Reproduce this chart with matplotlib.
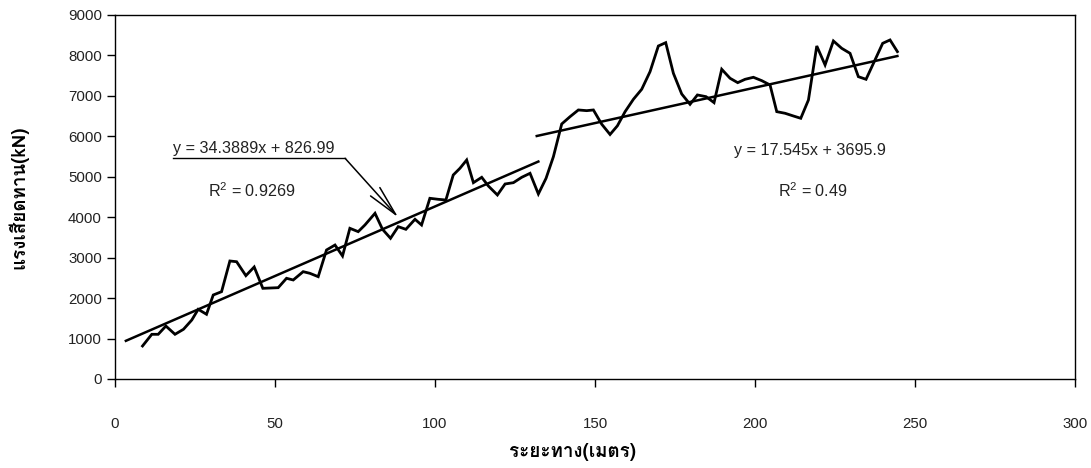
import matplotlib
matplotlib.use("Agg")
import matplotlib.pyplot as plt
from matplotlib import font_manager
from matplotlib.ft2font import FT2Font

# Measured friction along the pile (distance in metres, force in kN)
distance = [8.6, 11.5, 13.5, 15.9, 18.75, 21.4, 24.0, 26.0, 28.6, 30.7, 33.3, 35.9,
            38.0, 40.9, 43.5, 46.2, 48.6, 51.0, 53.6, 55.7, 58.8, 60.9, 63.5, 66.1,
            68.75, 71.1, 73.4, 76.0, 78.1, 81.25, 83.6, 86.1, 88.5, 90.9, 93.75, 95.8,
            98.4, 101.0, 103.4, 105.7, 107.8, 109.9, 112.0, 114.6, 116.7, 119.5, 121.9,
            124.5, 127.1, 129.7, 132.3, 134.7, 137.0, 139.6, 142.2, 144.8, 147.4, 149.5,
            152.1, 154.7, 157.0, 159.4, 162.0, 164.6, 167.2, 169.8, 172.1, 174.5, 177.1,
            179.7, 182.0, 184.7, 187.2, 189.6, 192.2, 194.6, 196.9, 199.5, 202.1, 204.7,
            206.8, 209.4, 212.0, 214.3, 216.7, 219.3, 221.9, 224.5, 227.1, 229.7, 232.3,
            234.7, 237.5, 239.9, 242.2, 244.5]
friction = [816, 1105, 1105, 1310, 1105, 1229, 1459, 1723, 1600, 2077, 2159, 2918,
            2900, 2555, 2770, 2242, 2250, 2258, 2490, 2448, 2654, 2613, 2530, 3190,
            3313, 3042, 3726, 3643, 3808, 4097, 3701, 3479, 3767, 3701, 3949, 3808,
            4468, 4443, 4426, 5044, 5210, 5415, 4854, 4987, 4770, 4550, 4822,
            4854, 4987, 5086, 4575, 4962, 5497, 6306, 6486, 6652, 6635, 6652,
            6300, 6046, 6260, 6610, 6916, 7164, 7599, 8234, 8316, 7558, 7047,
            6792, 7023, 6981, 6833, 7658, 7436, 7327, 7410, 7460, 7377, 7270,
            6610, 6570, 6503, 6446, 6899, 8234, 7765, 8358, 8176, 8053, 7475,
            7410, 7888, 8300, 8383, 8094]

# Linear trends of the two segments
trend1_slope, trend1_icpt, trend1_r2 = 34.3889, 826.99, 0.9269
trend1_range = [3.4, 132.3]
trend2_slope, trend2_icpt, trend2_r2 = 17.545, 3695.9, 0.49
trend2_range = [131.8, 244.5]

x_ticks = [0, 50, 100, 150, 200, 250, 300]
y_ticks = [0, 1000, 2000, 3000, 4000, 5000, 6000, 7000, 8000, 9000]
x_label = "ระยะทาง(เมตร)"
y_label = "แรงเสียดทาน(kN)"


def thai_family():
    for fe in font_manager.fontManager.ttflist:
        try:
            f = FT2Font(fe.fname)
            if f.get_char_index(ord("ร")) and f.get_char_index(ord("ท")):
                return fe.name
        except Exception:
            pass
    return "DejaVu Sans"


THAI = thai_family()
plt.rcParams["font.family"] = ["Liberation Sans", "DejaVu Sans"]
plt.rcParams["mathtext.fontset"] = "custom"
plt.rcParams["mathtext.rm"] = "Liberation Sans"

fig = plt.figure(figsize=(10.91, 4.68), dpi=100)
ax = fig.add_axes([115 / 1091, 1 - 379 / 468, 960 / 1091, 364 / 468])

ax.plot(distance, friction, color="black", lw=2.0, solid_joinstyle="miter")

for (x0, x1), m, c in ((trend1_range, trend1_slope, trend1_icpt),
                       (trend2_range, trend2_slope, trend2_icpt)):
    ax.plot([x0, x1], [m * x0 + c, m * x1 + c], color="black", lw=1.8)

ax.set_xlim(0, 300)
ax.set_ylim(0, 9000)
ax.set_xticks(x_ticks)
ax.set_yticks(y_ticks)
tick_color = "#222222"
ax.tick_params(axis="x", direction="out", length=5.5, width=1, pad=22,
               labelsize=10.8, labelcolor=tick_color)
ax.tick_params(axis="y", direction="out", length=5.5, width=1, pad=4,
               labelsize=10.8, labelcolor=tick_color)
for s in ax.spines.values():
    s.set_linewidth(1.0)
    s.set_color("black")

# Equation labels
txt_color = "#222222"
eq_size = 11.6
ax.text(18.0, 5510, f"y = {trend1_slope}x + {trend1_icpt}", fontsize=eq_size,
        color=txt_color, ha="left", va="bottom")
ax.plot([18, 71.9], [5457, 5457], color="black", lw=1.0)
ax.annotate("", xy=(88.5, 3998), xytext=(71.9, 5457),
            arrowprops=dict(arrowstyle="->,head_length=2.2,head_width=0.45",
                            color="black", lw=1.1, shrinkA=0, shrinkB=0,
                            mutation_scale=10))
ax.text(29.0, 4650, f"R$^{{2}}$ = {trend1_r2}", fontsize=eq_size, color=txt_color,
        ha="left", va="center")

ax.text(193.3, 5660, f"y = {trend2_slope}x + {trend2_icpt}", fontsize=eq_size,
        color=txt_color, ha="left", va="center")
ax.text(207.3, 4650, f"R$^{{2}}$ = {trend2_r2}", fontsize=eq_size, color=txt_color,
        ha="left", va="center")

fig.text(572 / 1091, 1 - 452 / 468, x_label, family=[THAI, "DejaVu Sans"],
         fontsize=13.5, fontweight="bold", ha="center", va="center")
fig.text(18 / 1091, 1 - 197 / 468, y_label, family=[THAI, "DejaVu Sans"],
         fontsize=13.5, fontweight="bold", ha="center", va="center", rotation=90)

fig.savefig("out.png", dpi=100)
